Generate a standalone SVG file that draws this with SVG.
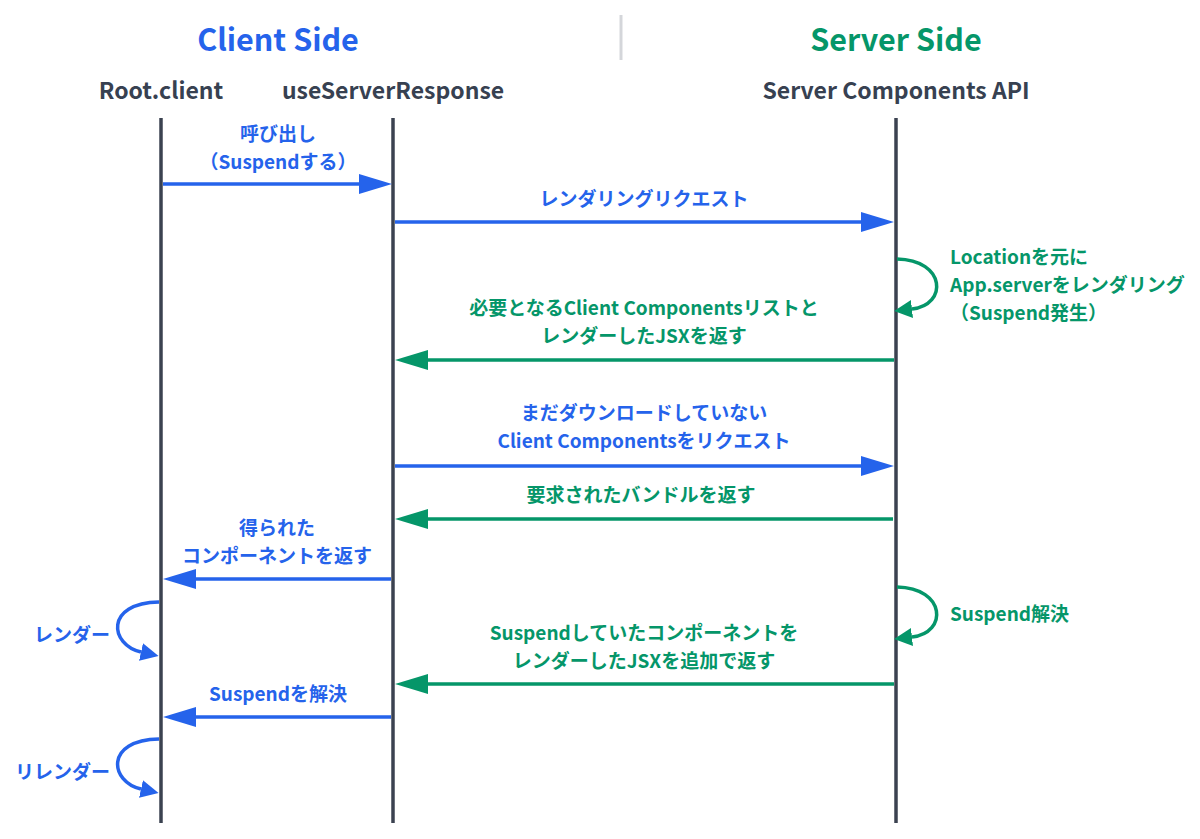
<svg xmlns="http://www.w3.org/2000/svg" width="1200" height="839" viewBox="0 0 1200 839">
<style>
text{font-family:"Noto Sans CJK JP","Noto Sans",sans-serif;font-weight:700}
.hd{font-size:30.5px;text-anchor:middle}
.pt{font-size:23px;text-anchor:middle;fill:#374151}
.lb{font-size:19px}
.c{text-anchor:middle}
.e{text-anchor:end}
.blue{fill:#2563eb}
.green{fill:#059669}
.life{stroke:#3b4250;stroke-width:3.5}
.ab{stroke:#2563eb;stroke-width:3.5;fill:none}
.ag{stroke:#059669;stroke-width:3.5;fill:none}
</style>
<defs>
<marker id="hb" markerUnits="userSpaceOnUse" markerWidth="33" markerHeight="20" refX="23" refY="10" orient="auto"><path d="M0,0 L33,10 L0,20 Z" fill="#2563eb"/></marker>
<marker id="hg" markerUnits="userSpaceOnUse" markerWidth="33" markerHeight="20" refX="23" refY="10" orient="auto"><path d="M0,0 L33,10 L0,20 Z" fill="#059669"/></marker>
<marker id="lb" markerUnits="userSpaceOnUse" markerWidth="18" markerHeight="18" refX="0" refY="9" orient="auto"><path d="M0,0 L18,9 L0,18 Z" fill="#2563eb"/></marker>
<marker id="lg" markerUnits="userSpaceOnUse" markerWidth="18" markerHeight="18" refX="0" refY="9" orient="auto"><path d="M0,0 L18,9 L0,18 Z" fill="#059669"/></marker>
</defs>
<rect width="1200" height="839" fill="#ffffff"/>
<g id="headers">
<text class="hd blue" x="278" y="51">Client Side</text>
<line x1="621" y1="15" x2="621" y2="60" stroke="#d4d6da" stroke-width="3"/>
<text class="hd green" x="896" y="51">Server Side</text>
</g>
<g id="root-client">
<text class="pt" x="161" y="99">Root.client</text>
<line class="life" x1="161" y1="118" x2="161" y2="823"/>
</g>
<g id="use-server-response">
<text class="pt" x="393" y="99">useServerResponse</text>
<line class="life" x1="393" y1="118" x2="393" y2="823"/>
</g>
<g id="server-components-api">
<text class="pt" x="896" y="99">Server Components API</text>
<line class="life" x1="896" y1="118" x2="896" y2="823"/>
</g>
<g id="connectors">
<line class="ab" x1="163" y1="184" x2="382" y2="184" marker-end="url(#hb)"/>
<line class="ab" x1="395" y1="222" x2="884" y2="222" marker-end="url(#hb)"/>
<path class="ag" d="M897,259 C946,260 948,305 912,309" marker-end="url(#lg)"/>
<line class="ag" x1="894" y1="360" x2="405" y2="360" marker-end="url(#hg)"/>
<line class="ab" x1="395" y1="466" x2="884" y2="466" marker-end="url(#hb)"/>
<line class="ag" x1="893" y1="519" x2="405" y2="519" marker-end="url(#hg)"/>
<line class="ab" x1="391" y1="579" x2="173" y2="579" marker-end="url(#hb)"/>
<path class="ag" d="M897,587 C946,588 948,633 912,637" marker-end="url(#lg)"/>
<path class="ab" d="M159,602 C104,603 110,645 141,652" marker-end="url(#lb)"/>
<line class="ag" x1="894" y1="684" x2="405" y2="684" marker-end="url(#hg)"/>
<line class="ab" x1="391" y1="717" x2="173" y2="717" marker-end="url(#hb)"/>
<path class="ab" d="M159,739 C104,740 110,782 141,789" marker-end="url(#lb)"/>
</g>
<g id="labels">
<text class="lb c blue" x="278" y="141">呼び出し</text>
<text class="lb c blue" x="278" y="169">（Suspendする）</text>
<text class="lb c blue" x="644" y="206">レンダリングリクエスト</text>
<text class="lb green" x="950" y="264">Locationを元に</text>
<text class="lb green" x="950" y="292">App.serverをレンダリング</text>
<text class="lb green" x="950" y="320">（Suspend発生）</text>
<text class="lb c green" x="644" y="315">必要となるClient Componentsリストと</text>
<text class="lb c green" x="644" y="343">レンダーしたJSXを返す</text>
<text class="lb c blue" x="644" y="420">まだダウンロードしていない</text>
<text class="lb c blue" x="644" y="448">Client Componentsをリクエスト</text>
<text class="lb c green" x="641" y="502">要求されたバンドルを返す</text>
<text class="lb c blue" x="277" y="535">得られた</text>
<text class="lb c blue" x="277" y="563">コンポーネントを返す</text>
<text class="lb green" x="950" y="621">Suspend解決</text>
<text class="lb e blue" x="110" y="642">レンダー</text>
<text class="lb c green" x="644" y="640">Suspendしていたコンポーネントを</text>
<text class="lb c green" x="644" y="668">レンダーしたJSXを追加で返す</text>
<text class="lb c blue" x="278" y="701">Suspendを解決</text>
<text class="lb e blue" x="110" y="779">リレンダー</text>
</g>
</svg>
